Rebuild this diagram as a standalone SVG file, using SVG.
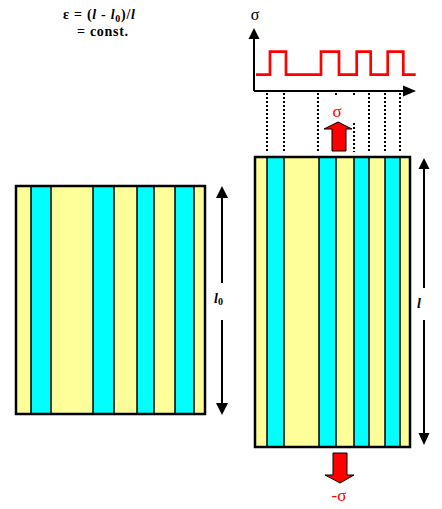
<svg xmlns="http://www.w3.org/2000/svg" width="442" height="509" viewBox="0 0 442 509">
<defs>
<style>
.y{fill:#FFFF99}
.c{fill:#00FFFF}
.sep{stroke:#000;stroke-width:1.5;fill:none}
.frame{fill:none;stroke:#000;stroke-width:2.5}
.dim{stroke:#000;stroke-width:2;fill:none}
.dot{stroke:#000;stroke-width:2;stroke-dasharray:2 2;fill:none}
.head{fill:#000}
.serif{font-family:"Liberation Serif","DejaVu Serif",serif;font-weight:bold}
.sym{font-family:"Liberation Serif","DejaVu Serif",serif;font-weight:normal}
.red{fill:#FF0000;stroke:#000;stroke-width:1}
</style>
</defs>
<rect width="442" height="509" fill="#fff"/>

<g id="formula" class="serif" font-size="14" fill="#000">
<text x="63" y="19" textLength="72" lengthAdjust="spacing">ε = (<tspan font-style="italic">l</tspan> - <tspan font-style="italic">l</tspan><tspan font-size="10" dy="3">0</tspan><tspan dy="-3">)/</tspan><tspan font-style="italic">l</tspan></text>
<text x="77" y="36" textLength="51" lengthAdjust="spacing">= const.</text>
</g>

<g id="graph">
<path d="M254,91 V38 M254,91 H404" class="dim" stroke-width="2.3"/>
<polygon class="head" points="254,28 248.5,39 259.5,39"/>
<polygon class="head" points="416,91 403,85.5 403,96.5"/>
<text x="255" y="20" class="sym" font-size="16" text-anchor="middle">σ</text>
<path d="M256,74.7 H270 V51.7 H286 V74.7 H321 V51.7 H339 V74.7 H356.7 V51.7 H370.7 V74.7 H387.7 V51.7 H403.3 V74.7 H415.7" fill="none" stroke="#FF0000" stroke-width="2.7"/>
</g>

<g id="left-block">
<rect class="y" x="16" y="186" width="189" height="228"/>
<rect class="c" x="31" y="186" width="20" height="228"/>
<rect class="c" x="93" y="186" width="21" height="228"/>
<rect class="c" x="137" y="186" width="17" height="228"/>
<rect class="c" x="175" y="186" width="19" height="228"/>
<path class="sep" d="M31,186V414M51,186V414M93,186V414M114,186V414M137,186V414M154,186V414M175,186V414M194,186V414"/>
<rect class="frame" x="16" y="186" width="189" height="228"/>
</g>

<g id="right-block">
<rect class="y" x="255" y="157" width="155" height="290"/>
<rect class="c" x="267" y="157" width="17" height="290"/>
<rect class="c" x="319" y="157" width="17" height="290"/>
<rect class="c" x="354" y="157" width="15" height="290"/>
<rect class="c" x="385" y="157" width="15" height="290"/>
<path class="sep" d="M267,157V447M284,157V447M319,157V447M336,157V447M354,157V447M369,157V447M385,157V447M400,157V447"/>
<rect class="frame" x="255" y="157" width="155" height="290"/>
</g>

<g id="connectors">
<path class="dot" d="M267,93V152M284,93V152M318,93V152M336,93V97M354,93V97M354,123V152M369,93V152M385,93V152M400,93V152"/>
<path class="dim" d="M222,197V283M222,320V404"/>
<polygon class="head" points="222,186 216,198 228,198"/>
<polygon class="head" points="222,415 216,403 228,403"/>
<path class="dim" d="M424,168V288M424,320V434"/>
<polygon class="head" points="424,158 418.5,169 429.5,169"/>
<polygon class="head" points="424,445 418.5,433 429.5,433"/>
</g>

<g id="stress-up">
<polygon class="red" points="332,151 332,129 324,129 338,122 352,129 346,129 346,151"/>
<text x="337" y="117" class="sym" font-size="17" fill="#FF0000" text-anchor="middle">σ</text>
</g>

<g id="stress-down">
<polygon class="red" points="333,453 347,453 347,475 354,475 340,483 325,475 333,475"/>
<text x="339" y="501" class="sym" font-size="17" fill="#FF0000" text-anchor="middle">-σ</text>
</g>

<g id="labels" class="serif" font-style="italic" font-size="14" fill="#000">
<text x="214" y="303">l<tspan font-size="10" font-style="normal" dy="2">0</tspan></text>
<text x="417" y="308">l</text>
</g>
</svg>
